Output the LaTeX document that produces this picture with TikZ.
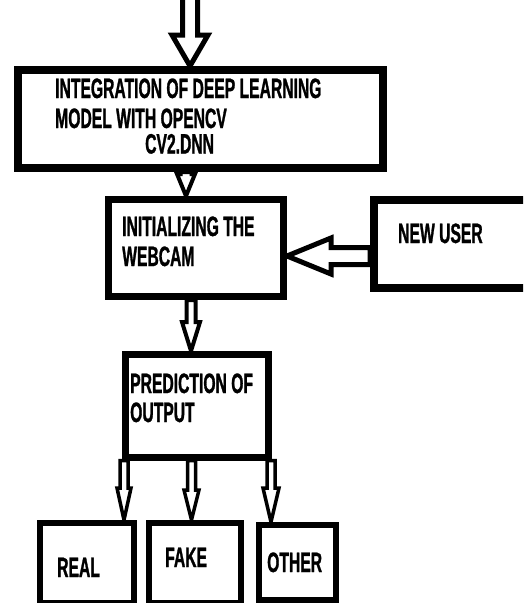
\documentclass[tikz,border=0pt]{standalone}
\usepackage{fontspec}
\newfontfamily\lbl{Liberation Sans Bold}[FakeStretch=0.56, FakeBold=1]
\usetikzlibrary{calc,backgrounds}

\tikzset{
  box/.style={draw=black, fill=white, line width=7pt, inner sep=0pt,
    anchor=north west, rectangle},
  lbl/.style={inner sep=0pt, anchor=base west, text height=20pt, text depth=0pt,
    font=\lbl\fontsize{28}{32}\selectfont},
  blockarrow/.style={draw=black, fill=white, line width=4pt, line join=miter}
}

% hollow block arrow: [style]{tail}{tip}{shaft half width}{head half width}{head length}
\newcommand\hollowarrow[6][]{%
  \coordinate (hb) at ($(#3)!#6!(#2)$);
  \draw[blockarrow,#1]
    ($(#2)!#4!90:(#3)$) -- ($(hb)!#4!90:(#3)$) -- ($(hb)!#5!90:(#3)$)
    -- (#3)
    -- ($(hb)!#5!-90:(#3)$) -- ($(hb)!#4!-90:(#3)$) -- ($(#2)!#4!-90:(#3)$)
    -- cycle;
}

\begin{document}
\begin{tikzpicture}[x=1pt,y=-1pt]
\useasboundingbox (0,0) rectangle (523,603);
\clip (0,0) rectangle (523,603);

% boxes
\node[box, line width=8pt, minimum width=365pt, minimum height=98pt] (dnn) at (14,66) {};
\node[box, minimum width=175pt, minimum height=97pt] (cam) at (105,196) {};
\node[box, line width=8pt, minimum width=175pt, minimum height=88pt] (user) at (370,196) {};
\node[box, line width=6.5pt, minimum width=143pt, minimum height=103pt] (pred) at (122,351) {};
\node[box, line width=6pt, minimum width=94pt, minimum height=80pt] (real) at (37,520) {};
\node[box, line width=6pt, minimum width=92pt, minimum height=80pt] (fake) at (146,520) {};
\node[box, line width=6pt, minimum width=77pt, minimum height=75pt] (other) at (256,522) {};

% labels
\node[lbl] (t1a) at (55,98) {INTEGRATION OF DEEP LEARNING};
\node[lbl] (t1b) at (55,128) {MODEL WITH OPENCV};
\node[lbl] (t1c) at (145,153.5) {CV2.DNN};
\node[lbl] (t2a) at (122,236) {INITIALIZING THE};
\node[lbl] (t2b) at (122,266) {WEBCAM};
\node[lbl] (tnu) at (398,243) {NEW USER};
\node[lbl] (t3a) at (130,393) {PREDICTION OF};
\node[lbl] (t3b) at (130,422) {OUTPUT};
\node[lbl] (treal) at (57,577) {REAL};
\node[lbl] (tfake) at (165,567) {FAKE};
\node[lbl] (tother) at (267,572) {OTHER};

% connectors
\begin{pgfonlayer}{background}
  \coordinate (start) at (190,-6);
  \coordinate (startTip) at (dnn.north -| 190,0);
  \hollowarrow[line width=5pt]{start}{startTip}{7.5pt}{18pt}{31pt}

  \coordinate (a1) at (dnn.south -| 186,0);
  \coordinate (a2) at (cam.north -| 186,0);
  \hollowarrow{a1}{a2}{5.5pt}{9pt}{22pt}

  \coordinate (b1) at (cam.south -| 191,0);
  \coordinate (b2) at (pred.north -| 191,0);
  \hollowarrow{b1}{b2}{4.5pt}{9pt}{29pt}

  \coordinate (u1) at (user.west);
  \coordinate (u2) at (cam.east |- 0,256);
  \coordinate (u0) at (u1 |- 0,256);
  \hollowarrow[line width=5pt]{u0}{u2}{8.5pt}{18pt}{44pt}

  \coordinate (r1) at (pred.south -| 124,0);
  \coordinate (r2) at (real.north -| 124,0);
  \hollowarrow[line width=3.5pt]{r1}{r2}{4pt}{7pt}{32pt}

  \coordinate (f1) at (pred.south -| 191.5,0);
  \coordinate (f2) at (fake.north -| 191.5,0);
  \hollowarrow[line width=3.5pt]{f1}{f2}{4pt}{7.5pt}{30pt}

  \coordinate (o1) at (pred.south -| 271,0);
  \coordinate (o2) at (other.north -| 271,0);
  \hollowarrow[line width=3.5pt]{o1}{o2}{4pt}{8pt}{34pt}
\end{pgfonlayer}
\end{tikzpicture}
\end{document}
